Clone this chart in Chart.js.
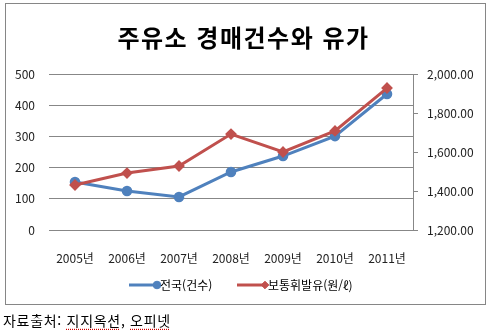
<!DOCTYPE html>
<html lang="ko">
<head>
<meta charset="utf-8">
<script src="https://cdn.jsdelivr.net/npm/chart.js@4/dist/chart.umd.min.js"></script>
<style>
  body { margin: 0; background: #fff; font-family: "Noto Sans CJK KR", sans-serif; }
  #wrap { position: relative; width: 487px; height: 331px; }
  #chart { position: absolute; left: 0; top: 0; }
  #frame { position: absolute; left: 5px; top: 3px; width: 479px; height: 300px; border: 1px solid #868686; pointer-events: none; }
  #title { position: absolute; left: 0; width: 487px; top: 19px; text-align: center; font-size: 24px; letter-spacing: 1.5px; font-weight: bold; color: #000; }
  #source { position: absolute; left: 3px; top: 310px; font-size: 14px; letter-spacing: 0.7px; color: #000; }
  #source u { text-decoration: underline dotted #d00000; text-underline-offset: 3px; }
</style>
</head>
<body>
<div id="wrap">
  <canvas id="chart" width="487" height="305"></canvas>
  <div id="frame"></div>
  <div id="title">주유소 경매건수와 유가</div>
  <div id="source">자료출처: <u>지지옥션</u>, <u>오피넷</u></div>
</div>
<script>
const years = ["2005년", "2006년", "2007년", "2008년", "2009년", "2010년", "2011년"];
const auctionCount = [154, 125, 106, 186, 237, 301, 436];      // 전국(건수)
const gasolinePrice = [1431, 1492, 1528, 1692, 1600, 1708, 1928]; // 보통휘발유(원/ℓ)

const FONT = "'Noto Sans CJK KR', sans-serif";
const BLUE = "#4F81BD";
const RED = "#C0504D";

// legend drawn by hand: line + marker, then the label
const lineLegend = {
  id: "lineLegend",
  afterDraw(chart) {
    const ctx = chart.ctx;
    const items = [
      { ds: chart.data.datasets[0], x: 129 },
      { ds: chart.data.datasets[1], x: 237 }
    ];
    const y = 285;
    ctx.save();
    ctx.font = "12px " + FONT;
    ctx.textBaseline = "middle";
    items.forEach(it => {
      ctx.strokeStyle = it.ds.borderColor;
      ctx.lineWidth = 3;
      ctx.beginPath();
      ctx.moveTo(it.x, y);
      ctx.lineTo(it.x + 28, y);
      ctx.stroke();
      ctx.fillStyle = it.ds.pointBackgroundColor;
      ctx.strokeStyle = it.ds.pointBorderColor;
      ctx.lineWidth = 1;
      Chart.helpers.drawPoint(ctx, {
        pointStyle: it.ds.pointStyle,
        radius: it.ds.pointRadius,
        borderWidth: 1
      }, it.x + 28, y);
      ctx.fillStyle = "#000";
      ctx.fillText(it.ds.label, it.x + 31, y);
    });
    ctx.restore();
  }
};

new Chart(document.getElementById("chart"), {
  type: "line",
  data: {
    labels: years,
    datasets: [{
      label: "전국(건수)",
      data: auctionCount,
      yAxisID: "y",
      borderColor: BLUE,
      backgroundColor: BLUE,
      pointBackgroundColor: BLUE,
      pointBorderColor: BLUE,
      pointStyle: "circle",
      pointRadius: 3.8,
      borderWidth: 3,
      order: 1
    }, {
      label: "보통휘발유(원/ℓ)",
      data: gasolinePrice,
      yAxisID: "y1",
      borderColor: RED,
      backgroundColor: RED,
      pointBackgroundColor: RED,
      pointBorderColor: RED,
      pointStyle: "rectRot",
      pointRadius: 3.8,
      borderWidth: 3,
      order: 0
    }]
  },
  options: {
    responsive: false,
    animation: false,
    layout: { padding: { top: 74, left: 0, right: 0, bottom: 0 } },
    plugins: {
      legend: { display: false },
      tooltip: { enabled: false }
    },
    scales: {
      x: {
        offset: true,
        grid: { display: false },
        border: { display: false },
        ticks: { color: "#222", font: { family: FONT, size: 12 }, padding: 13, maxRotation: 0 },
        afterFit(scale) { scale.height = 75; }
      },
      y: {
        position: "left",
        min: 0,
        max: 500,
        ticks: { stepSize: 100, color: "#222", font: { family: FONT, size: 12 }, padding: 14 },
        grid: { color: "#878787", lineWidth: 1, drawTicks: false },
        border: { display: false },
        afterFit(scale) { scale.width = 49; }
      },
      y1: {
        position: "right",
        min: 1200,
        max: 2000,
        ticks: {
          stepSize: 200,
          color: "#222",
          font: { family: FONT, size: 12 },
          padding: 9,
          callback: v => v.toLocaleString("en-US", { minimumFractionDigits: 2, maximumFractionDigits: 2 })
        },
        grid: { drawOnChartArea: false, drawTicks: true, tickLength: 5, color: "#878787" },
        border: { display: true, color: "#878787", width: 1 },
        afterFit(scale) { scale.width = 74; }
      }
    }
  },
  plugins: [lineLegend]
});
</script>
</body>
</html>
